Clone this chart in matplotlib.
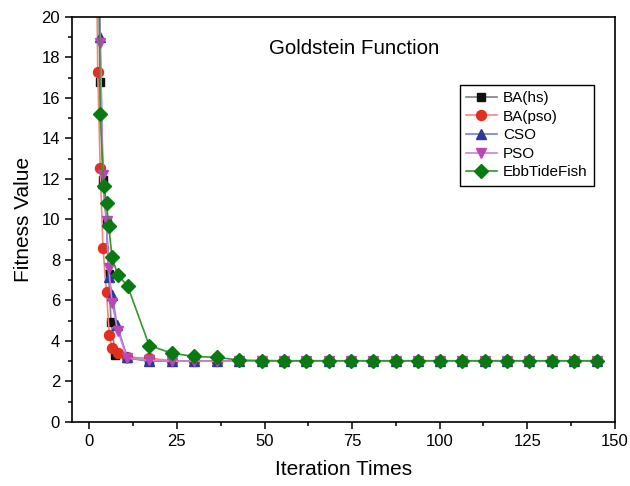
import matplotlib
matplotlib.use('Agg')
import matplotlib.pyplot as plt
from matplotlib.ticker import MultipleLocator

plt.rcParams['font.family'] = ['Liberation Sans', 'DejaVu Sans']

tail_x = [17.1, 23.6, 30.0, 36.3, 42.8, 49.2, 55.5, 61.9, 68.3, 74.7, 81.0,
          87.4, 93.8, 100.1, 106.5, 112.9, 119.3, 125.6, 132.0, 138.4, 144.8]

ba_hs_x = [2.0, 3.1, 3.9, 4.9, 5.5, 6.2, 7.4, 10.8] + tail_x
ba_hs_y = [30.0, 16.8, 11.95, 9.8, 7.3, 4.95, 3.31, 3.15] + [3.0] * len(tail_x)

ba_pso_x = [1.6, 2.4, 3.1, 3.9, 4.9, 5.7, 6.5, 8.1, 10.8] + tail_x
ba_pso_y = [30.0, 17.3, 12.56, 8.57, 6.4, 4.3, 3.64, 3.42, 3.2] + [3.14, 3.02] + [3.0] * (len(tail_x) - 2)

cso_x = [2.4, 3.1, 3.9, 4.9, 5.5, 6.5, 7.9, 10.8] + tail_x
cso_y = [30.0, 19.0, 11.8, 9.9, 7.18, 6.27, 4.79, 3.2] + [3.0] * len(tail_x)

pso_x = [2.4, 3.1, 3.9, 4.9, 5.5, 6.5, 8.1, 10.8] + tail_x
pso_y = [30.0, 18.7, 12.2, 9.94, 7.62, 5.86, 4.51, 3.14] + [3.05] + [3.0] * (len(tail_x) - 1)

ebb_x = [2.4, 3.1, 4.1, 4.9, 5.5, 6.5, 8.1, 10.9] + tail_x
ebb_y = [30.0, 15.2, 11.67, 10.83, 9.7, 8.12, 7.26, 6.72] + \
        [3.77, 3.39, 3.23, 3.19, 3.05, 3.03] + [3.02] * (len(tail_x) - 6)

series = [
    ("BA(hs)", ba_hs_x, ba_hs_y, "#808080", "#111111", "s", 6.2),
    ("BA(pso)", ba_pso_x, ba_pso_y, "#f08878", "#e03020", "o", 7.2),
    ("CSO", cso_x, cso_y, "#6f7fd0", "#2a3a9a", "^", 7.2),
    ("PSO", pso_x, pso_y, "#d080d8", "#b848b8", "v", 7.2),
    ("EbbTideFish", ebb_x, ebb_y, "#2e9a2e", "#087a10", "D", 6.7),
]

fig = plt.figure(figsize=(6.3, 4.86), dpi=100)
ax = fig.add_axes([0.114, 0.132, 0.862, 0.833])

for name, xs, ys, lc, mc, mk, ms in series:
    ax.plot(xs, ys, color=lc, linewidth=1.2, marker=mk, markersize=ms,
            markerfacecolor=mc, markeredgecolor=mc, label=name)

ax.set_xlim(-5, 150)
ax.set_ylim(0, 20)
ax.xaxis.set_major_locator(MultipleLocator(25))
ax.xaxis.set_minor_locator(MultipleLocator(12.5))
ax.yaxis.set_major_locator(MultipleLocator(2))
ax.yaxis.set_minor_locator(MultipleLocator(1))
ax.tick_params(which='major', direction='out', length=5, width=1.1, labelsize=12,
               top=False, right=False)
ax.tick_params(which='minor', direction='out', length=3, width=1.1,
               top=False, right=False)
for sp in ax.spines.values():
    sp.set_linewidth(1.2)

ax.set_xlabel("Iteration Times", fontsize=15, labelpad=8)
ax.set_ylabel("Fitness Value", fontsize=15, labelpad=6)
ax.text(0.52, 0.923, "Goldstein Function", transform=ax.transAxes,
        ha='center', va='center', fontsize=14.8)

leg = ax.legend(loc='upper left', bbox_to_anchor=(0.715, 0.832), borderaxespad=0,
                fontsize=11, frameon=True, fancybox=False, framealpha=1,
                edgecolor='black', handlelength=2.0, borderpad=0.4,
                labelspacing=0.3, handletextpad=0.4)
leg.get_frame().set_linewidth(1.0)

fig.savefig("out.png", dpi=100)
